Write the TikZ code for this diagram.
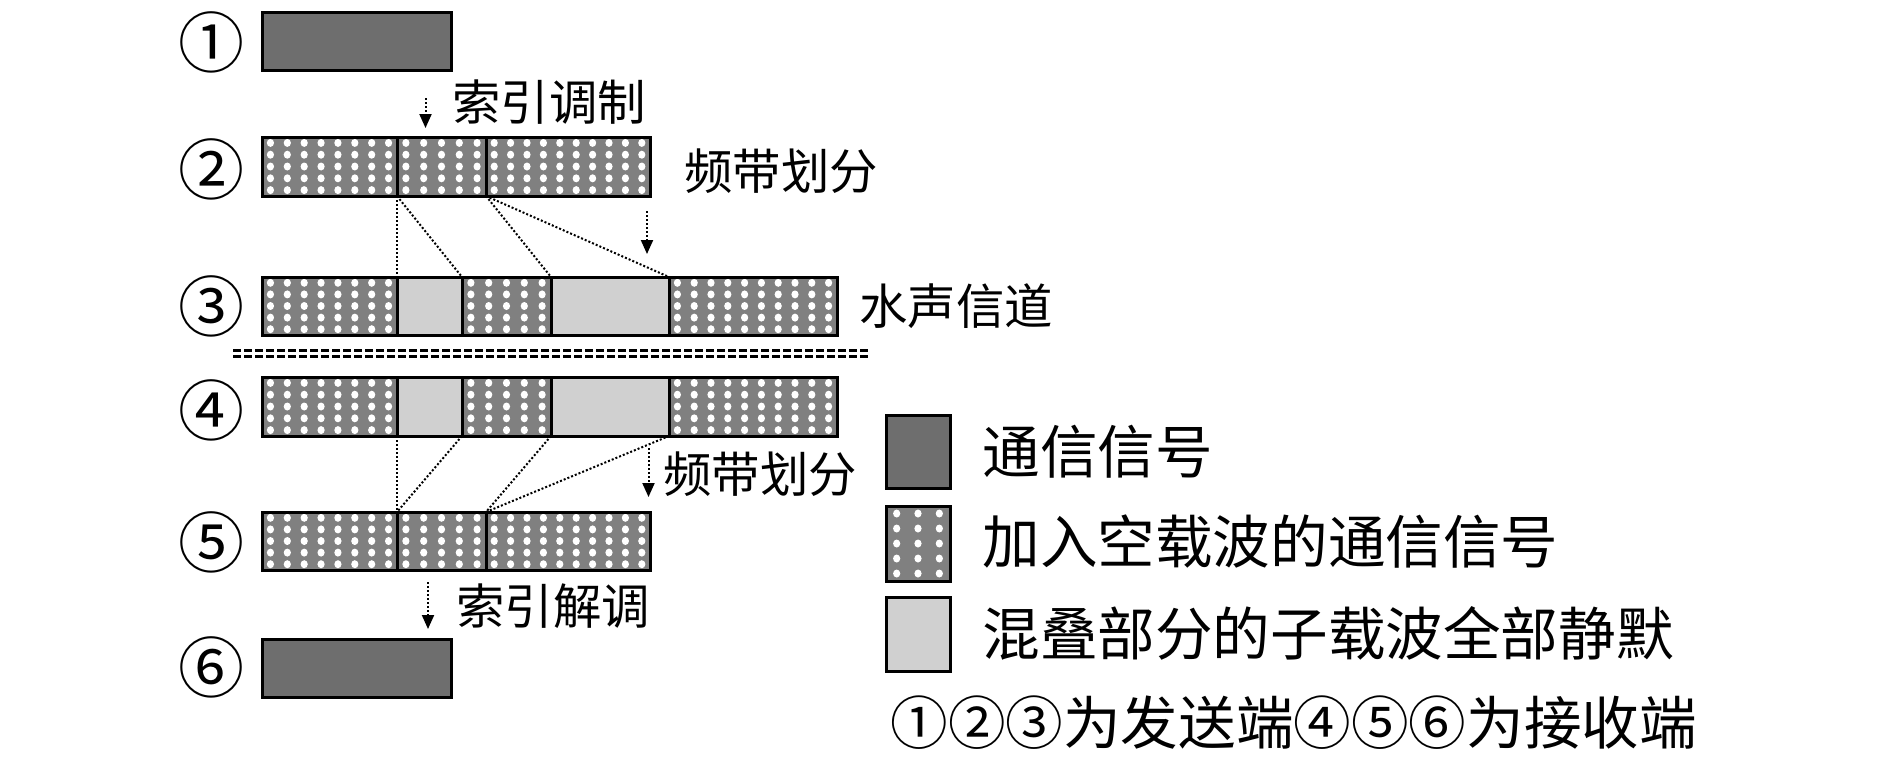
\documentclass[tikz,border=0pt]{standalone}
\usepackage{fontspec}
\newfontfamily\cjk{Noto Sans CJK SC}
\usetikzlibrary{arrows.meta}
\definecolor{darkfill}{RGB}{110,110,110}
\definecolor{dotgray}{RGB}{128,128,128}
\definecolor{lightfill}{RGB}{208,208,208}
\newcommand{\Seg}[6]{\node[#1, minimum width={(#5-#3)*0.5pt}, minimum height={(#6-#4)*0.5pt}] (#2) at (#3,#4) {};}
\tikzset{
 segbase/.style={draw=black, line width=1.5pt, inner sep=0pt, outer sep=0pt, anchor=north west},
 sigbox/.style={segbase, fill=darkfill},
 silent/.style={segbase, fill=lightfill},
 dseg/.style={segbase, fill=dotgray, path picture={
   \pgfpointdiff{\pgfpointanchor{path picture bounding box}{south west}}{\pgfpointanchor{path picture bounding box}{north east}}%
   \pgfgetlastxy{\segw}{\segh}%
   \pgfmathsetmacro{\segdx}{\segw/#1}%
   \pgfmathsetmacro{\segdy}{\segh/5}%
   \foreach \i in {1,...,#1}{\foreach \j in {1,...,5}{%
     \pgfmathsetmacro{\px}{(\i-0.5)*\segdx}%
     \pgfmathsetmacro{\py}{(\j-0.5)*\segdy}%
     \fill[white] ([shift={(\px pt,\py pt)}]path picture bounding box.south west) ellipse[x radius=1.8pt, y radius=2pt];
   }}%
 }},
 conn/.style={black, line width=1pt, dash pattern=on 1pt off 1pt},
 steparrow/.style={black, line width=1pt, dash pattern=on 1pt off 1pt, -{Triangle[length=7pt,width=6pt]}},
 sepline/.style={black, line width=1.8pt, dash pattern=on 4pt off 1.5pt},
 lbl/.style={font=\cjk\fontsize{24.2}{24.2}\selectfont, anchor=west, inner sep=0pt},
 lgd/.style={font=\cjk\fontsize{28.8}{28.8}\selectfont, anchor=west, inner sep=0pt},
 num/.style={font=\cjk\fontsize{33}{33}\selectfont, inner sep=0pt},
}
\begin{document}
\begin{tikzpicture}[x=0.5pt,y=-0.5pt]
\useasboundingbox (0,0) rectangle (1890,757);
% row 1
\Seg{sigbox}{r1}{262}{12}{451}{70}
% row 2
\Seg{dseg=8}{r2a}{262}{137}{397}{196}
\Seg{dseg=5}{r2b}{397}{137}{486}{196}
\Seg{dseg=10}{r2c}{486}{137}{650}{196}
% row 3
\Seg{dseg=8}{r3a}{262}{277}{397}{335}
\Seg{silent}{r3b}{397}{277}{462}{335}
\Seg{dseg=5}{r3c}{462}{277}{551}{335}
\Seg{silent}{r3d}{551}{277}{669}{335}
\Seg{dseg=10}{r3e}{669}{277}{837}{335}
% row 4
\Seg{dseg=8}{r4a}{262}{377}{397}{436}
\Seg{silent}{r4b}{397}{377}{462}{436}
\Seg{dseg=5}{r4c}{462}{377}{551}{436}
\Seg{silent}{r4d}{551}{377}{669}{436}
\Seg{dseg=10}{r4e}{669}{377}{837}{436}
% row 5
\Seg{dseg=8}{r5a}{262}{512}{397}{570}
\Seg{dseg=5}{r5b}{397}{512}{486}{570}
\Seg{dseg=10}{r5c}{486}{512}{650}{570}
% row 6
\Seg{sigbox}{r6}{262}{639}{451}{697}
% row labels
\node[num] (l1) at (211,42) {①};
\node[num] (l2) at (211,169) {②};
\node[num] (l3) at (211,306) {③};
\node[num] (l4) at (211,410) {④};
\node[num] (l5) at (211,542) {⑤};
\node[num] (l6) at (211,667) {⑥};
% step arrows and texts
\coordinate (a1s) at (425.5,98); \coordinate (a1e) at (425.5,128);
\draw[steparrow] (a1s) -- (a1e);
\node[lbl] (t1) at (452,102) {索引调制};
\node[lbl] (t2) at (684,171) {频带划分};
\coordinate (a2s) at (647,211); \coordinate (a2e) at (647,254);
\draw[steparrow] (a2s) -- (a2e);
\node[lbl] (t3) at (859,306) {水声信道};
\coordinate (a3s) at (648.5,448); \coordinate (a3e) at (648.5,497);
\draw[steparrow] (a3s) -- (a3e);
\node[lbl] (t4) at (663,474) {频带划分};
\coordinate (a4s) at (428,582); \coordinate (a4e) at (428,629);
\draw[steparrow] (a4s) -- (a4e);
\node[lbl] (t5) at (456,606) {索引解调};
% mapping connectors
\draw[conn] (r2a.south east) -- (r3a.north east);
\draw[conn] (r2b.south west) -- (r3b.north east);
\draw[conn] (r2b.south east) -- (r3c.north east);
\draw[conn] (r2c.south west) -- (r3d.north east);
\draw[conn] (r4a.south east) -- (r5a.north east);
\draw[conn] (r4b.south east) -- (r5a.north east);
\draw[conn] (r4c.south east) -- (r5b.north east);
\draw[conn] (r4d.south east) -- (r5b.north east);
% separator
\coordinate (sL1) at (233,350.5); \coordinate (sR1) at (870,350.5);
\coordinate (sL2) at (233,356.5); \coordinate (sR2) at (870,356.5);
\draw[sepline] (sL1) -- (sR1);
\draw[sepline] (sL2) -- (sR2);
% legend
\Seg{sigbox}{k1}{886}{415}{950}{488}
\Seg{dseg=3}{k2}{886}{506}{950}{581}
\Seg{silent}{k3}{886}{597}{950}{671}
\node[lgd] (g1) at (982,452) {通信信号};
\node[lgd] (g2) at (982,542) {加入空载波的通信信号};
\node[lgd] (g3) at (982,633) {混叠部分的子载波全部静默};
\node[lgd] (g4) at (890,723) {①②③为发送端④⑤⑥为接收端};
\end{tikzpicture}
\end{document}
